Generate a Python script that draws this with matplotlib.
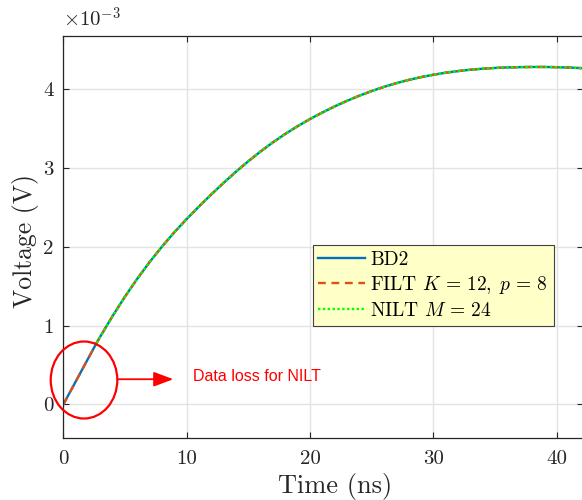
import numpy as np
import matplotlib
matplotlib.use("Agg")
import matplotlib.pyplot as plt
from matplotlib.patches import Ellipse
from matplotlib.ticker import FuncFormatter

plt.rcParams["font.family"] = ["cmr10", "DejaVu Serif"]
plt.rcParams["mathtext.fontset"] = "cm"
plt.rcParams["axes.unicode_minus"] = False
plt.rcParams["axes.formatter.use_mathtext"] = True

# Transient voltage response (time in ns, voltage in mV)
time_ns = [0, 1, 2, 2.7, 3, 4, 5, 6, 7, 8, 9, 10, 11, 12, 13, 14, 15, 16, 17,
           18, 19, 20, 21, 22, 23, 24, 25, 26, 27, 28, 29, 30, 31, 32, 33, 34,
           35, 36, 37, 38, 39, 40, 41, 42]
v_bd2_mv = [0.0, 0.289, 0.578, 0.780, 0.861, 1.122, 1.3665, 1.594, 1.805,
            2.0005, 2.182, 2.350, 2.509, 2.662, 2.809, 2.9495, 3.0825, 3.207,
            3.3225, 3.429, 3.527, 3.617, 3.700, 3.777, 3.848, 3.913, 3.972,
            4.025, 4.072, 4.113, 4.1485, 4.179, 4.2045, 4.2255, 4.2425,
            4.2555, 4.265, 4.2715, 4.2755, 4.2775, 4.2775, 4.275, 4.270,
            4.263]
v_filt_mv = list(v_bd2_mv)
# NILT output is missing for the first few nanoseconds
nilt_start_ns = 2.7
v_nilt_mv = [v for t, v in zip(time_ns, v_bd2_mv) if t >= nilt_start_ns]
time_nilt_ns = [t for t in time_ns if t >= nilt_start_ns]

labels = ["BD2", r"FILT $K\,=\,12,\;p\,=\,8$", r"NILT $M\,=\,24$"]
colors = ["#0072BD", "#D95319", "#00FF00"]

x_ticks = [0, 10, 20, 30, 40]
y_ticks_mv = [0, 1, 2, 3, 4]

fig = plt.figure(figsize=(5.82, 5.0), dpi=100)
ax = fig.add_axes([63.3 / 582, 1 - 438 / 500, (582.5 - 63.3) / 582, (438 - 36) / 500])

t = np.array(time_ns)
ax.plot(t, np.array(v_bd2_mv) * 1e-3, color=colors[0], lw=1.7, label=labels[0])
ax.plot(t, np.array(v_filt_mv) * 1e-3, color=colors[1], lw=1.7,
        linestyle=(0, (3.3, 2.4)), label=labels[1])
ax.plot(np.array(time_nilt_ns), np.array(v_nilt_mv) * 1e-3, color=colors[2], lw=1.7,
        linestyle=(0, (1, 1.05)), label=labels[2])

ax.set_xlim(0, 42.1)
ax.set_ylim(-0.425e-3, 4.67e-3)
ax.set_xticks(x_ticks)
ax.set_yticks([v * 1e-3 for v in y_ticks_mv])
ax.yaxis.set_major_formatter(FuncFormatter(lambda v, p: f"{v * 1e3:.0f}"))
ax.xaxis.set_major_formatter(FuncFormatter(lambda v, p: f"{v:.0f}"))

ax.grid(True, color="#e3e3e3", lw=1.0)
ax.set_axisbelow(True)
ax.tick_params(direction="in", length=4, width=0.8, color="#262626",
               top=True, right=True, labelsize=15, labelcolor="#262626")
ax.tick_params(axis="x", pad=9)
ax.tick_params(axis="y", pad=7)
for s in ax.spines.values():
    s.set_color("#262626")
    s.set_linewidth(0.9)

ax.set_xlabel("Time (ns)", fontsize=19, color="#262626")
ax.xaxis.set_label_coords(0.523, -0.088)
ax.set_ylabel("Voltage (V)", fontsize=18.5, color="#262626")
ax.yaxis.set_label_coords(-0.046, 0.49)
ax.text(0.0, 1.012, r"$\times10^{\mathrm{-3}}$", transform=ax.transAxes,
        fontsize=15, color="#262626", ha="left", va="bottom")

leg = ax.legend(loc="upper left", bbox_to_anchor=(0.480, 0.480), borderaxespad=0,
                fontsize=14, fancybox=False, framealpha=1, facecolor="#FFFFC8",
                edgecolor="#404040", handlelength=2.4, handletextpad=0.26,
                labelspacing=0.28, borderpad=0.3)
leg.get_frame().set_linewidth(0.8)

# Highlight the region where NILT has no output
ax.add_patch(Ellipse((1.68, 0.31e-3), 5.4, 0.976e-3, fill=False, edgecolor="red",
                     lw=1.6, clip_on=False, zorder=5))
ax.annotate("", xy=(8.92, 0.32e-3), xytext=(4.38, 0.32e-3),
            arrowprops=dict(arrowstyle="-|>,head_length=1.2,head_width=0.45",
                            color="red", lw=1.3, mutation_scale=10,
                            shrinkA=0, shrinkB=0))
ax.text(10.5, 0.36e-3, "Data loss for NILT", color="red", fontsize=11.5,
        family="Liberation Sans", ha="left", va="center")

fig.savefig("out.png", dpi=100)
